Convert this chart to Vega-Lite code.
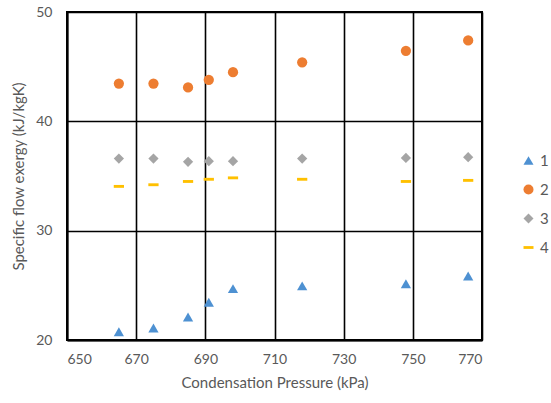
{
  "$schema": "https://vega.github.io/schema/vega-lite/v6.json",
  "autosize": {"type": "none"},
  "width": 415,
  "height": 328,
  "padding": {"left": 67, "top": 12, "right": 69, "bottom": 63},
  "background": "white",
  "config": {
    "font": "Lato",
    "view": {"stroke": "black", "strokeWidth": 2},
    "axis": {
      "labelFont": "Lato",
      "titleFont": "Lato",
      "labelFontSize": 14,
      "titleFontSize": 15,
      "titleFontWeight": "normal",
      "labelColor": "#595959",
      "titleColor": "#595959",
      "gridColor": "black",
      "gridWidth": 1.6,
      "gridOpacity": 1,
      "domainColor": "black",
      "domainWidth": 2,
      "ticks": false
    },
    "legend": {"labelFont": "Lato", "labelFontSize": 15, "labelColor": "#595959"}
  },
  "data": {
    "values": [
      {"p": 665, "v": 20.75, "s": "1"},
      {"p": 675, "v": 21.1, "s": "1"},
      {"p": 685, "v": 22.1, "s": "1"},
      {"p": 691, "v": 23.45, "s": "1"},
      {"p": 698, "v": 24.7, "s": "1"},
      {"p": 718, "v": 24.95, "s": "1"},
      {"p": 748, "v": 25.15, "s": "1"},
      {"p": 766, "v": 25.85, "s": "1"},
      {"p": 665, "v": 43.45, "s": "2"},
      {"p": 675, "v": 43.45, "s": "2"},
      {"p": 685, "v": 43.1, "s": "2"},
      {"p": 691, "v": 43.8, "s": "2"},
      {"p": 698, "v": 44.5, "s": "2"},
      {"p": 718, "v": 45.4, "s": "2"},
      {"p": 748, "v": 46.45, "s": "2"},
      {"p": 766, "v": 47.4, "s": "2"},
      {"p": 665, "v": 36.6, "s": "3"},
      {"p": 675, "v": 36.6, "s": "3"},
      {"p": 685, "v": 36.3, "s": "3"},
      {"p": 691, "v": 36.35, "s": "3"},
      {"p": 698, "v": 36.35, "s": "3"},
      {"p": 718, "v": 36.6, "s": "3"},
      {"p": 748, "v": 36.65, "s": "3"},
      {"p": 766, "v": 36.72, "s": "3"},
      {"p": 665, "v": 34.05, "s": "4"},
      {"p": 675, "v": 34.2, "s": "4"},
      {"p": 685, "v": 34.5, "s": "4"},
      {"p": 691, "v": 34.7, "s": "4"},
      {"p": 698, "v": 34.83, "s": "4"},
      {"p": 718, "v": 34.7, "s": "4"},
      {"p": 748, "v": 34.5, "s": "4"},
      {"p": 766, "v": 34.6, "s": "4"}
    ]
  },
  "mark": {"type": "point", "filled": true, "opacity": 1, "size": 105},
  "encoding": {
    "x": {
      "field": "p",
      "type": "quantitative",
      "scale": {"domain": [650, 770], "nice": false, "zero": false},
      "axis": {"values": [650, 670, 690, 710, 730, 750, 770], "title": "Condensation Pressure (kPa)", "labelPadding": 12, "titlePadding": 9}
    },
    "y": {
      "field": "v",
      "type": "quantitative",
      "scale": {"domain": [20, 50], "nice": false, "zero": false},
      "axis": {"values": [20, 30, 40, 50], "title": "Specific flow exergy (kJ/kgK)", "labelPadding": 15, "titlePadding": 9}
    },
    "color": {
      "field": "s",
      "type": "nominal",
      "scale": {"domain": ["1", "2", "3", "4"], "range": ["#4E91D2", "#ED7D31", "#A5A5A5", "#FFC000"]},
      "legend": {"title": null, "orient": "none", "legendX": 454, "legendY": 141, "rowPadding": 13, "labelOffset": 4, "symbolSize": 100, "padding": 0}
    },
    "shape": {
      "field": "s",
      "type": "nominal",
      "scale": {"domain": ["1", "2", "3", "4"], "range": ["triangle-up", "circle", "diamond", "M-1,-0.28L1,-0.28L1,0.28L-1,0.28Z"]},
      "legend": null
    }
  }
}
